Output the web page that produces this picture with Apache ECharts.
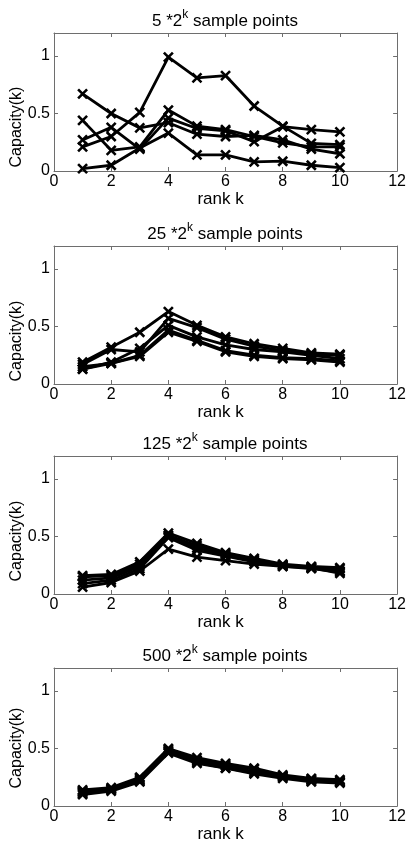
<!DOCTYPE html>
<html>
<head>
<meta charset="utf-8">
<script src="https://cdn.jsdelivr.net/npm/echarts@6/dist/echarts.min.js"></script>
<style>
  html, body { margin: 0; padding: 0; background: #fff; }
  #chart { width: 409px; height: 846px; }
</style>
</head>
<body>
<div id="chart"></div>
<script>
// Rank k on the horizontal axis
const ranks = [1, 2, 3, 4, 5, 6, 7, 8, 9, 10];

// Panel headings: base multiplier of 2^k sample points
const sampleBases = ['5', '25', '125', '500'];

// Tick values
const xTicks = [0, 2, 4, 6, 8, 10, 12];
const yTicks = [0, 0.5, 1];

// 5 *2^k sample points
const cap5_a = [0.21, 0.30, 0.51, 0.99, 0.81, 0.83, 0.565, 0.39, 0.24, 0.23];
const cap5_b = [0.67, 0.50, 0.375, 0.42, 0.32, 0.30, 0.31, 0.27, 0.19, 0.15];
const cap5_c = [0.44, 0.18, 0.21, 0.53, 0.39, 0.36, 0.30, 0.245, 0.21, 0.21];
const cap5_d = [0.27, 0.38, 0.19, 0.46, 0.37, 0.35, 0.255, 0.385, 0.36, 0.34];
const cap5_e = [0.02, 0.05, 0.20, 0.33, 0.14, 0.14, 0.08, 0.085, 0.05, 0.03];

// 25 *2^k sample points
const cap25_a = [0.19, 0.32, 0.45, 0.63, 0.51, 0.41, 0.35, 0.31, 0.27, 0.26];
const cap25_b = [0.17, 0.30, 0.28, 0.57, 0.49, 0.39, 0.33, 0.29, 0.26, 0.25];
const cap25_c = [0.13, 0.19, 0.31, 0.51, 0.41, 0.34, 0.30, 0.28, 0.25, 0.22];
const cap25_d = [0.15, 0.18, 0.25, 0.47, 0.38, 0.29, 0.25, 0.23, 0.22, 0.20];
const cap25_e = [0.13, 0.18, 0.24, 0.45, 0.37, 0.28, 0.24, 0.22, 0.21, 0.19];

// 125 *2^k sample points
const cap125_a = [0.16, 0.17, 0.28, 0.53, 0.44, 0.36, 0.31, 0.26, 0.24, 0.23];
const cap125_b = [0.15, 0.16, 0.26, 0.51, 0.42, 0.35, 0.30, 0.25, 0.23, 0.22];
const cap125_c = [0.12, 0.14, 0.24, 0.50, 0.40, 0.34, 0.29, 0.25, 0.23, 0.20];
const cap125_d = [0.09, 0.12, 0.22, 0.49, 0.38, 0.33, 0.28, 0.24, 0.22, 0.19];
const cap125_e = [0.06, 0.10, 0.20, 0.39, 0.32, 0.29, 0.26, 0.24, 0.23, 0.18];

// 500 *2^k sample points
const cap500_a = [0.14, 0.16, 0.25, 0.50, 0.42, 0.37, 0.33, 0.27, 0.24, 0.23];
const cap500_b = [0.13, 0.15, 0.24, 0.49, 0.40, 0.36, 0.32, 0.26, 0.23, 0.22];
const cap500_c = [0.12, 0.15, 0.23, 0.48, 0.39, 0.35, 0.30, 0.26, 0.23, 0.21];
const cap500_d = [0.11, 0.14, 0.22, 0.47, 0.38, 0.33, 0.29, 0.25, 0.22, 0.21];
const cap500_e = [0.10, 0.13, 0.21, 0.46, 0.37, 0.33, 0.28, 0.24, 0.21, 0.20];

const panelSeries = [
  [cap5_a, cap5_b, cap5_c, cap5_d, cap5_e],
  [cap25_a, cap25_b, cap25_c, cap25_d, cap25_e],
  [cap125_a, cap125_b, cap125_c, cap125_d, cap125_e],
  [cap500_a, cap500_b, cap500_c, cap500_d, cap500_e]
];

// Layout of the four stacked axes
const FONT = '"Liberation Sans", Arial, Helvetica, sans-serif';
const gridLeft = 54, gridRight = 10, gridHeight = 138;
const gridTops = [33, 246, 456, 668];
const yNameCenters = [127, 341, 541, 748];
const frameColor = '#6e6e6e';
const xMark = 'path://M0,0L10,10M10,0L0,10';

const grids = [], xAxes = [], yAxes = [], series = [], titles = [], graphics = [];

gridTops.forEach((top, i) => {
  grids.push({ left: gridLeft, right: gridRight, top: top, height: gridHeight, containLabel: false });

  const tickStyle = { show: true, inside: true, length: 4, lineStyle: { color: frameColor, width: 1 } };
  const lineStyle = { show: true, onZero: false, lineStyle: { color: frameColor, width: 1 } };

  xAxes.push({
    gridIndex: i, type: 'value', position: 'bottom',
    min: xTicks[0], max: xTicks[xTicks.length - 1], interval: xTicks[1] - xTicks[0],
    axisLine: lineStyle, axisTick: tickStyle, splitLine: { show: false },
    axisLabel: { fontFamily: FONT, fontSize: 16, color: '#000', margin: 3 },
    name: 'rank k', nameLocation: 'middle', nameGap: 19,
    nameTextStyle: { fontFamily: FONT, fontSize: 17, color: '#000', padding: [0, 10, 0, 0] }
  });
  xAxes.push({
    gridIndex: i, type: 'value', position: 'top',
    min: xTicks[0], max: xTicks[xTicks.length - 1], interval: xTicks[1] - xTicks[0],
    axisLine: lineStyle, axisTick: tickStyle, splitLine: { show: false },
    axisLabel: { show: false }
  });
  yAxes.push({
    gridIndex: i, type: 'value', position: 'left',
    min: 0, max: 1.2, interval: yTicks[1] - yTicks[0],
    axisLine: lineStyle, axisTick: tickStyle, splitLine: { show: false },
    axisLabel: { fontFamily: FONT, fontSize: 16, color: '#000', margin: 4, showMaxLabel: false }
  });
  yAxes.push({
    gridIndex: i, type: 'value', position: 'right',
    min: 0, max: 1.2, interval: yTicks[1] - yTicks[0],
    axisLine: lineStyle, axisTick: tickStyle, splitLine: { show: false },
    axisLabel: { show: false }
  });

  panelSeries[i].forEach(vals => {
    series.push({
      type: 'line',
      xAxisIndex: 2 * i, yAxisIndex: 2 * i,
      data: ranks.map((r, j) => [r, vals[j]]),
      symbol: xMark, symbolSize: 9,
      lineStyle: { color: '#000', width: 2.8 },
      itemStyle: { color: '#000', borderColor: '#000', borderWidth: 2.6 },
      emphasis: { disabled: true },
      animation: false
    });
  });

  titles.push({
    text: '{b|' + sampleBases[i] + ' *2}{s|k}{b| sample points}',
    left: 220, top: top - 29, textAlign: 'center',
    textStyle: {
      fontWeight: 'normal',
      rich: {
        b: { fontFamily: FONT, fontSize: 17, fontWeight: 'normal', color: '#000', verticalAlign: 'bottom', lineHeight: 21 },
        s: { fontFamily: FONT, fontSize: 12, fontWeight: 'normal', color: '#000', verticalAlign: 'top', lineHeight: 12 }
      }
    }
  });

  graphics.push({
    type: 'text', x: 17, y: yNameCenters[i], rotation: Math.PI / 2,
    style: { text: 'Capacity(k)', fontFamily: FONT, fontSize: 16, fill: '#000', align: 'center', verticalAlign: 'middle' }
  });
});

const chart = echarts.init(document.getElementById('chart'), null, { renderer: 'canvas' });
chart.setOption({
  animation: false,
  backgroundColor: '#fff',
  title: titles,
  grid: grids,
  xAxis: xAxes,
  yAxis: yAxes,
  series: series,
  graphic: graphics
});
</script>
</body>
</html>
